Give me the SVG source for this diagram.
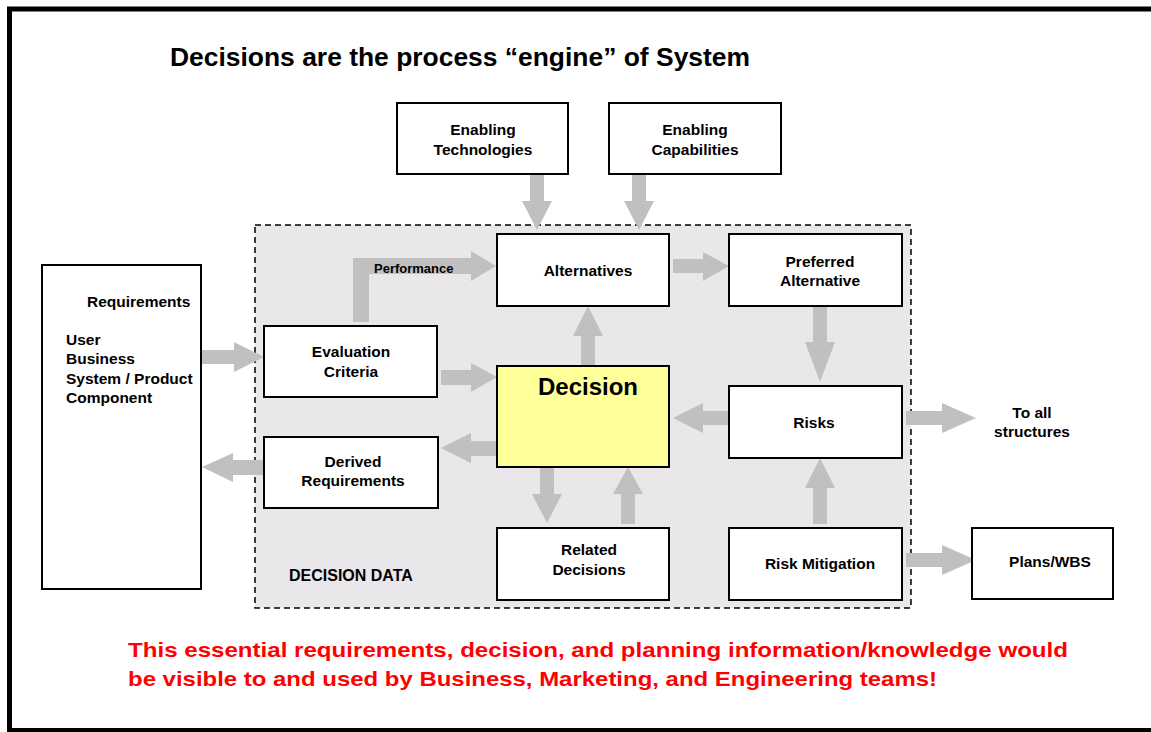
<svg xmlns="http://www.w3.org/2000/svg" width="1151" height="732" viewBox="0 0 1151 732">
<style>
.box{fill:#fff;stroke:#000;stroke-width:2}
.t{font-family:"Liberation Sans",Arial,sans-serif;font-weight:bold;font-size:15.5px;fill:#000;text-anchor:middle}
.ts{font-family:"Liberation Sans",Arial,sans-serif;font-weight:bold;font-size:15.5px;fill:#000}
.arr{fill:#c0c0c0;stroke:none}
</style>
<rect x="0" y="0" width="1151" height="732" fill="#fff"/>
<rect x="9.5" y="9" width="1160" height="721.5" fill="#fff" stroke="#000" stroke-width="5"/>
<text x="170" y="66" class="ts" style="font-size:25.5px" textLength="580" lengthAdjust="spacingAndGlyphs">Decisions are the process “engine” of System</text>
<rect id="decision-data" x="255" y="225" width="656" height="383" fill="#e9e7e9" stroke="#000" stroke-width="1.5" stroke-dasharray="6 4"/>
<text x="289" y="581" class="ts" style="font-size:16px">DECISION DATA</text>
<g id="connectors">
<polygon class="arr" points="530,174 544,174 544,201 552,201 537,230 522,201 530,201"/>
<polygon class="arr" points="632,174 646,174 646,201 654,201 639,230 624,201 632,201"/>
<polygon class="arr" points="673,259 703,259 703,252 729,266 703,281 703,273 673,273"/>
<polygon class="arr" points="353,322 353,258 471,258 471,251 496,266 471,281 471,274 369,274 369,322"/>
<polygon class="arr" points="441,370 471,370 471,363 497,377 471,392 471,385 441,385"/>
<polygon class="arr" points="202,350 234,350 234,342 264,357 234,372 234,364 202,364"/>
<polygon class="arr" points="264,460 233,460 233,453 202,467 233,482 233,475 264,475"/>
<polygon class="arr" points="497,441 471,441 471,433 441,448 471,463 471,456 497,456"/>
<polygon class="arr" points="581,366 581,336 573,336 588,306 603,336 595,336 595,366"/>
<polygon class="arr" points="540,467 554,467 554,494 562,494 547,523 532,494 540,494"/>
<polygon class="arr" points="621,524 621,494 613,494 628,467 643,494 635,494 635,524"/>
<polygon class="arr" points="813,306 813,342 805,342 820,382 835,342 827,342 827,306"/>
<polygon class="arr" points="729,411 703,411 703,403 673,418 703,433 703,425 729,425"/>
<polygon class="arr" points="813,524 813,488 805,488 820,458 835,488 827,488 827,524"/>
<polygon class="arr" points="906,411 942,411 942,403 976,418 942,433 942,425 906,425"/>
<polygon class="arr" points="906,553 942,553 942,545 976,560 942,575 942,567 906,567"/>
<text x="374" y="273" class="ts" style="font-size:13px">Performance</text>
</g>
<g id="enabling-technologies">
<rect class="box" x="397" y="103" width="171" height="71"/>
<text class="t" x="483" y="135">Enabling</text>
<text class="t" x="483" y="155">Technologies</text>
</g>
<g id="enabling-capabilities">
<rect class="box" x="609" y="103" width="172" height="71"/>
<text class="t" x="695" y="135">Enabling</text>
<text class="t" x="695" y="155">Capabilities</text>
</g>
<g id="alternatives">
<rect class="box" x="497" y="234" width="172" height="72"/>
<text class="t" x="588" y="276">Alternatives</text>
</g>
<g id="preferred-alternative">
<rect class="box" x="729" y="234" width="173" height="72"/>
<text class="t" x="820" y="267">Preferred</text>
<text class="t" x="820" y="286">Alternative</text>
</g>
<g id="requirements">
<rect class="box" x="42" y="265" width="159" height="324"/>
<text class="ts" x="87" y="307">Requirements</text>
<text class="ts" x="66" y="345">User</text>
<text class="ts" x="66" y="364">Business</text>
<text class="ts" x="66" y="384">System / Product</text>
<text class="ts" x="66" y="403">Component</text>
</g>
<g id="evaluation-criteria">
<rect class="box" x="264" y="326" width="173" height="71"/>
<text class="t" x="351" y="357">Evaluation</text>
<text class="t" x="351" y="377">Criteria</text>
</g>
<g id="decision">
<rect x="497" y="366" width="172" height="101" fill="#ffff99" stroke="#000" stroke-width="2"/>
<text class="t" x="588" y="395" style="font-size:24px">Decision</text>
</g>
<g id="risks">
<rect class="box" x="729" y="386" width="173" height="72"/>
<text class="t" x="814" y="428">Risks</text>
</g>
<g id="to-all-structures">
<text class="t" x="1032" y="418">To all</text>
<text class="t" x="1032" y="437">structures</text>
</g>
<g id="derived-requirements">
<rect class="box" x="264" y="437" width="174" height="71"/>
<text class="t" x="353" y="467">Derived</text>
<text class="t" x="353" y="486">Requirements</text>
</g>
<g id="related-decisions">
<rect class="box" x="497" y="528" width="172" height="72"/>
<text class="t" x="589" y="555">Related</text>
<text class="t" x="589" y="575">Decisions</text>
</g>
<g id="risk-mitigation">
<rect class="box" x="729" y="528" width="173" height="72"/>
<text class="t" x="820" y="569">Risk Mitigation</text>
</g>
<g id="plans-wbs">
<rect class="box" x="972" y="528" width="141" height="71"/>
<text class="t" x="1050" y="567">Plans/WBS</text>
</g>
<g id="note">
<text class="ts" x="128" y="657" style="font-size:21px;fill:#ff0000" textLength="940" lengthAdjust="spacingAndGlyphs">This essential requirements, decision, and planning information/knowledge would</text>
<text class="ts" x="128" y="686" style="font-size:21px;fill:#ff0000" textLength="809" lengthAdjust="spacingAndGlyphs">be visible to and used by Business, Marketing, and Engineering teams!</text>
</g>
</svg>
